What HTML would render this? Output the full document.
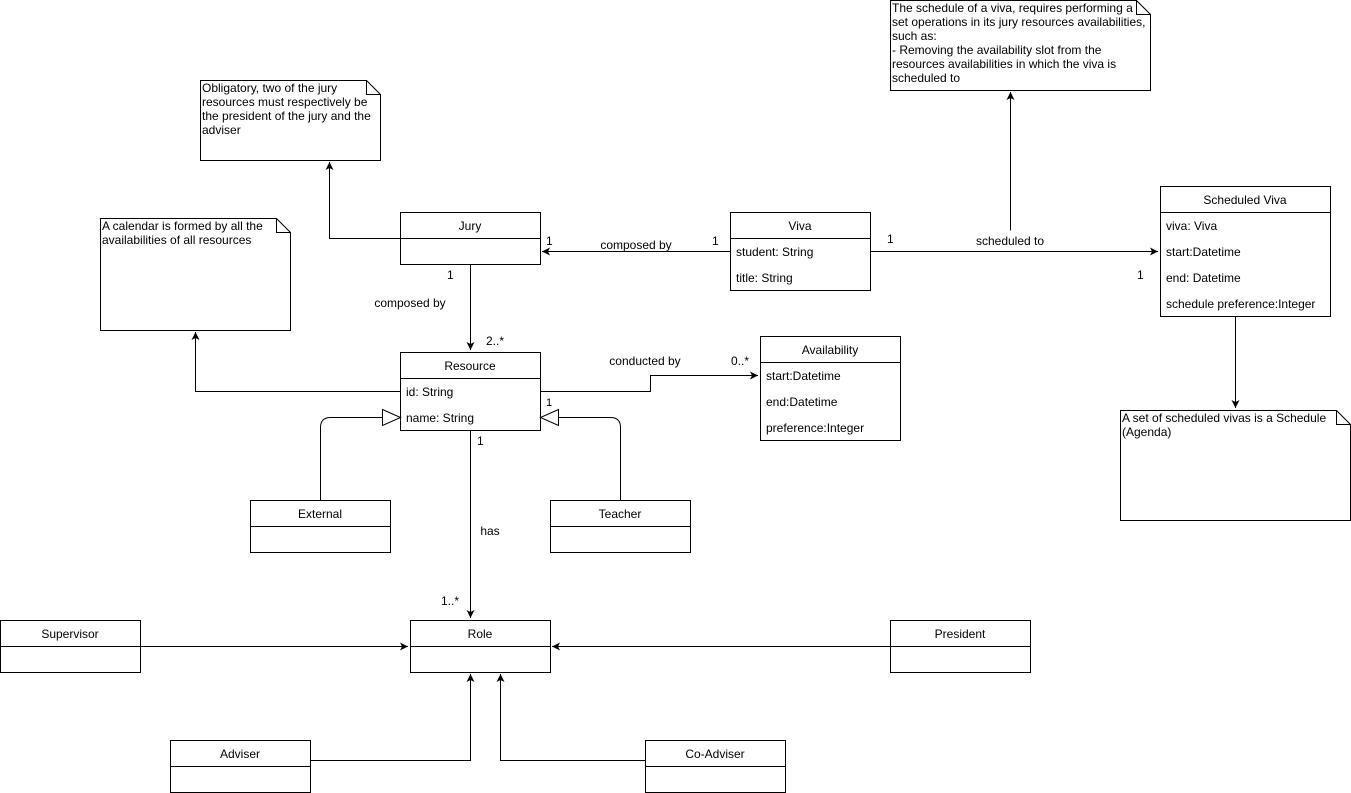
<!DOCTYPE html>
<html><head><meta charset="utf-8"><style>
html,body{margin:0;padding:0;background:#fff;}
svg{display:block;font-family:"Liberation Sans",Helvetica,sans-serif;font-size:12px;}
</style></head><body>
<svg width="1351" height="793" viewBox="0 0 1351 793" xmlns="http://www.w3.org/2000/svg">
<defs>
<marker id="a" markerWidth="10" markerHeight="10" refX="8" refY="4" orient="auto" markerUnits="userSpaceOnUse">
<path d="M0,0 L8,4 L0,8 L2,4 Z" fill="#000"/></marker>
</defs>
<g fill="#fff" stroke="#000" stroke-width="1">
<!-- notes -->
<path d="M200.5,80.5 H366.5 L380.5,94.5 V160.5 H200.5 Z"/><path d="M366.5,80.5 V94.5 H380.5" fill="none"/>
<path d="M100.5,218.5 H276.5 L290.5,232.5 V330.5 H100.5 Z"/><path d="M276.5,218.5 V232.5 H290.5" fill="none"/>
<path d="M890.5,0.5 H1136.5 L1150.5,14.5 V90.5 H890.5 Z"/><path d="M1136.5,0.5 V14.5 H1150.5" fill="none"/>
<path d="M1120.5,410.5 H1336.5 L1350.5,424.5 V520.5 H1120.5 Z"/><path d="M1336.5,410.5 V424.5 H1350.5" fill="none"/>
<!-- classes -->
<rect x="400.5" y="212.5" width="140" height="52"/><line x1="400.5" y1="238.5" x2="540.5" y2="238.5"/>
<rect x="730.5" y="212.5" width="140" height="78"/><line x1="730.5" y1="238.5" x2="870.5" y2="238.5"/>
<rect x="1160.5" y="186.5" width="170" height="130"/><line x1="1160.5" y1="212.5" x2="1330.5" y2="212.5"/>
<rect x="400.5" y="352.5" width="140" height="78"/><line x1="400.5" y1="378.5" x2="540.5" y2="378.5"/>
<rect x="760.5" y="336.5" width="140" height="104"/><line x1="760.5" y1="362.5" x2="900.5" y2="362.5"/>
<rect x="250.5" y="500.5" width="140" height="52"/><line x1="250.5" y1="526.5" x2="390.5" y2="526.5"/>
<rect x="550.5" y="500.5" width="140" height="52"/><line x1="550.5" y1="526.5" x2="690.5" y2="526.5"/>
<rect x="410.5" y="620.5" width="140" height="52"/><line x1="410.5" y1="646.5" x2="550.5" y2="646.5"/>
<rect x="0.5" y="620.5" width="140" height="52"/><line x1="0.5" y1="646.5" x2="140.5" y2="646.5"/>
<rect x="890.5" y="620.5" width="140" height="52"/><line x1="890.5" y1="646.5" x2="1030.5" y2="646.5"/>
<rect x="170.5" y="740.5" width="140" height="52"/><line x1="170.5" y1="766.5" x2="310.5" y2="766.5"/>
<rect x="645.5" y="740.5" width="140" height="52"/><line x1="645.5" y1="766.5" x2="785.5" y2="766.5"/>
</g>
<g fill="none" stroke="#000" stroke-width="1">
<path d="M730.5,251.5 H542" marker-end="url(#a)"/>
<path d="M470.5,264.5 V350" marker-end="url(#a)"/>
<path d="M400.5,238.5 H329.5 V162" marker-end="url(#a)"/>
<path d="M870.5,251.5 H1158" marker-end="url(#a)"/>
<path d="M1010.5,230.5 V92" marker-end="url(#a)"/>
<path d="M1235.5,316.5 V408" marker-end="url(#a)"/>
<path d="M540.5,391.5 H650.5 V375.5 H758" marker-end="url(#a)"/>
<path d="M400.5,391.5 H195.5 V332" marker-end="url(#a)"/>
<path d="M320.5,500.5 V427.5 Q320.5,417.5 330.5,417.5 H382.5"/>
<path d="M382.5,409.5 L400.5,417.5 L382.5,425.5 Z" fill="#fff"/>
<path d="M620.5,500.5 V427.5 Q620.5,417.5 610.5,417.5 H558.5"/>
<path d="M558.5,409.5 L540.5,417.5 L558.5,425.5 Z" fill="#fff"/>
<path d="M470.5,430.5 V618" marker-end="url(#a)"/>
<path d="M140.5,646.5 H408" marker-end="url(#a)"/>
<path d="M890.5,646.5 H552" marker-end="url(#a)"/>
<path d="M310.5,760.5 H470.5 V674" marker-end="url(#a)"/>
<path d="M645.5,760.5 H500.5 V674" marker-end="url(#a)"/>
</g>
<g fill="#000" text-anchor="middle">
<text x="470" y="230">Jury</text>
<text x="800" y="230">Viva</text>
<text x="1245" y="204">Scheduled Viva</text>
<text x="470" y="370">Resource</text>
<text x="830" y="354">Availability</text>
<text x="320" y="518">External</text>
<text x="620" y="518">Teacher</text>
<text x="480" y="638">Role</text>
<text x="70" y="638">Supervisor</text>
<text x="960" y="638">President</text>
<text x="240" y="758">Adviser</text>
<text x="715" y="758">Co-Adviser</text>
<text x="636" y="249">composed by</text>
<text x="410" y="307">composed by</text>
<text x="1010" y="245">scheduled to</text>
<text x="645" y="365">conducted by</text>
<text x="490" y="535">has</text>
</g>
<g fill="#000">
<text x="736" y="256">student: String</text>
<text x="736" y="282">title: String</text>
<text x="1166" y="230">viva: Viva</text>
<text x="1166" y="256">start:Datetime</text>
<text x="1166" y="282">end: Datetime</text>
<text x="1166" y="308">schedule preference:Integer</text>
<text x="406" y="396">id: String</text>
<text x="406" y="422">name: String</text>
<text x="766" y="380">start:Datetime</text>
<text x="766" y="406">end:Datetime</text>
<text x="766" y="432">preference:Integer</text>
<text x="546" y="245">1</text>
<text x="712" y="245">1</text>
<text x="447" y="279">1</text>
<text x="486" y="345">2..*</text>
<text x="887" y="243">1</text>
<text x="1137" y="279">1</text>
<text x="731" y="365">0..*</text>
<text x="546" y="406" font-size="11">1</text>
<text x="477" y="445">1</text>
<text x="441" y="605">1..*</text>
<text x="202" y="92">Obligatory, two of the jury</text>
<text x="202" y="106">resources must respectively be</text>
<text x="202" y="120">the president of the jury and the</text>
<text x="202" y="134">adviser</text>
<text x="102" y="230">A calendar is formed by all the</text>
<text x="102" y="244">availabilities of all resources</text>
<text x="892" y="12">The schedule of a viva, requires performing a</text>
<text x="892" y="26">set operations in its jury resources availabilities,</text>
<text x="892" y="40">such as:</text>
<text x="892" y="54">- Removing the availability slot from the</text>
<text x="892" y="68">resources availabilities in which the viva is</text>
<text x="892" y="82">scheduled to</text>
<text x="1122" y="422">A set of scheduled vivas is a Schedule</text>
<text x="1122" y="436">(Agenda)</text>
</g>
</svg>
</body></html>
